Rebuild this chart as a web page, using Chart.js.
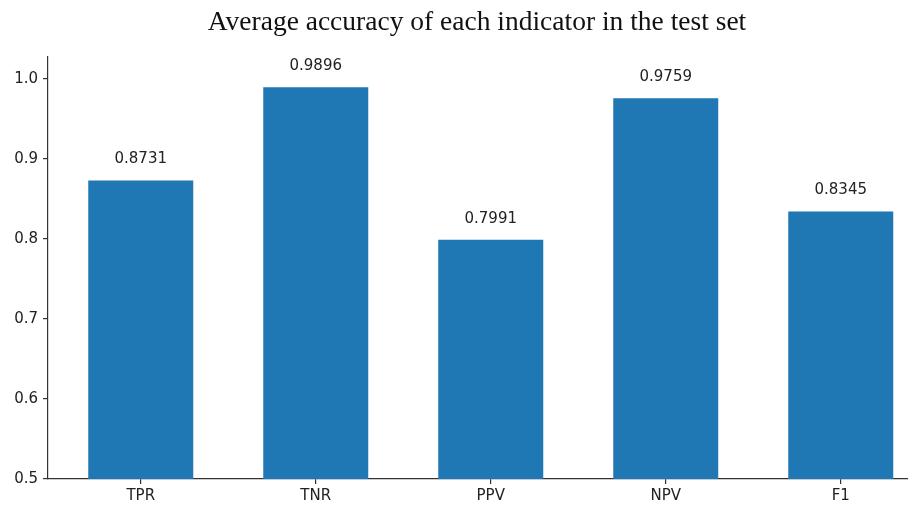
<!DOCTYPE html>
<html>
<head>
<meta charset="utf-8">
<script src="https://cdn.jsdelivr.net/npm/chart.js@4/dist/chart.umd.min.js"></script>
<style>
  html, body { margin: 0; padding: 0; background: #fff; overflow: hidden; }
  #wrap { width: 954px; height: 506px; }
</style>
</head>
<body>
<div id="wrap"><canvas id="chart" width="954" height="506"></canvas></div>
<script>
const categories = ['TPR', 'TNR', 'PPV', 'NPV', 'F1'];
const accuracy = [0.8731, 0.9896, 0.7991, 0.9759, 0.8345];
const yTicks = [0.5, 0.6, 0.7, 0.8, 0.9, 1.0];
const titleText = 'Average accuracy of each indicator in the test set';

const axisColor = '#333';

// value labels on top of the bars
const barLabels = {
  id: 'barLabels',
  afterDatasetsDraw(chart) {
    const ctx = chart.ctx;
    const meta = chart.getDatasetMeta(0);
    ctx.save();
    ctx.font = '15px "DejaVu Sans"';
    ctx.fillStyle = '#222';
    ctx.textAlign = 'center';
    ctx.textBaseline = 'middle';
    meta.data.forEach((bar, i) => {
      ctx.fillText(accuracy[i].toFixed(4), bar.x, bar.y - 21);
    });
    // title, centred like the original figure (not on the canvas)
    ctx.font = '27.5px "Liberation Serif", "Times New Roman", serif';
    ctx.fillStyle = '#111';
    ctx.textBaseline = 'alphabetic';
    ctx.fillText(titleText, 477, 30);
    ctx.restore();
  }
};

new Chart(document.getElementById('chart'), {
  type: 'bar',
  data: {
    datasets: [{
      data: accuracy.map((v, i) => ({ x: i, y: v })),
      backgroundColor: '#1f77b4',
      barPercentage: 0.6,
      categoryPercentage: 1.0
    }]
  },
  options: {
    responsive: false,
    animation: false,
    layout: { padding: { left: 0, right: 20.5, top: 56.6, bottom: 0 } },
    plugins: {
      legend: { display: false },
      tooltip: { enabled: false },
      title: { display: false }
    },
    scales: {
      x: {
        type: 'linear',
        offset: false,
        min: -0.53,
        max: 4.53,
        afterBuildTicks: s => { s.ticks = categories.map((c, i) => ({ value: i })); },
        afterFit: s => { s.height = 27; },
        ticks: {
          callback: v => categories[v],
          color: '#222',
          font: { family: '"DejaVu Sans"', size: 15 },
          padding: 3,
          maxRotation: 0
        },
        grid: { offset: false, drawOnChartArea: false, drawTicks: true, tickLength: 5, color: axisColor, lineWidth: 1.2 },
        border: { display: true, color: axisColor, width: 1.2 }
      },
      y: {
        min: 0.5,
        max: 1.028,
        afterBuildTicks: s => { s.ticks = yTicks.map(v => ({ value: v })); },
        afterFit: s => { s.width = 48; },
        ticks: {
          callback: v => v.toFixed(1),
          color: '#222',
          font: { family: '"DejaVu Sans"', size: 15 },
          padding: 5
        },
        grid: { drawOnChartArea: false, drawTicks: true, tickLength: 5, color: axisColor, lineWidth: 1.2 },
        border: { display: true, color: axisColor, width: 1.2 }
      }
    }
  },
  plugins: [barLabels]
});
</script>
</body>
</html>
